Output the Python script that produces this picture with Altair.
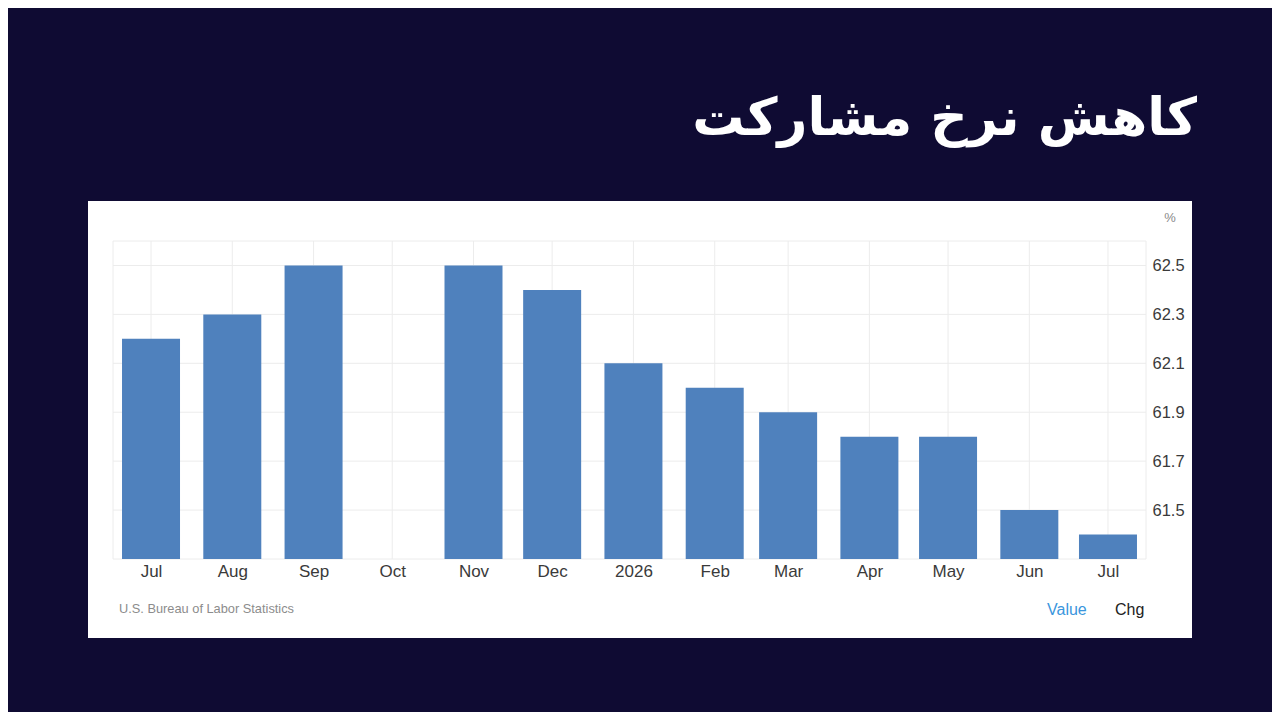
import altair as alt
import pandas as pd

# ---- data ----
DATES = ["2025-07-01", "2025-08-01", "2025-09-01", "2025-10-01", "2025-11-01",
         "2025-12-01", "2026-01-01", "2026-02-01", "2026-03-01", "2026-04-01",
         "2026-05-01", "2026-06-01", "2026-07-01"]
VALUES = [62.2, 62.3, 62.5, None, 62.5, 62.4, 62.1, 62.0, 61.9, 61.8, 61.8, 61.5, 61.4]
Y_TICKS = [61.3, 61.5, 61.7, 61.9, 62.1, 62.3, 62.5, 62.6]
X_DOMAIN = ["2025-06-16 12:00", "2026-07-15 12:00"]
Y_DOMAIN = [61.3, 62.6]

TITLE = "کاهش نرخ مشارکت"
UNIT = "%"
SOURCE = "U.S. Bureau of Labor Statistics"
TAB_VALUE = "Value"
TAB_CHG = "Chg"

df = pd.DataFrame({"date": DATES, "value": VALUES}).dropna()


def ms(s):
    return int(pd.Timestamp(s, tz="UTC").value // 10**6)


x_dom = [ms(s) for s in X_DOMAIN]
x_ticks = [x_dom[0]] + [ms(d) for d in DATES] + [x_dom[1]]

FONT = "Liberation Sans"
PANEL_W, PANEL_H = 1104, 437
GRID = "#ececec"

x_scale = alt.Scale(type="utc", domain=x_dom, range=[25, 1058], nice=False, padding=0)
y_scale = alt.Scale(domain=Y_DOMAIN, range=[358, 40], zero=False, nice=False, padding=0)

x_enc = alt.X(
    "date:T",
    scale=x_scale,
    axis=alt.Axis(
        title=None, values=[ms(d) for d in DATES], orient="bottom", offset=358 - PANEL_H,
        domain=False, ticks=False, tickSize=0, labelPadding=17,
        labelBaseline="alphabetic",
        labelExpr="utcFormat(datum.value,'%m') == '01' ? utcFormat(datum.value,'%Y') : utcFormat(datum.value,'%b')",
        labelFont=FONT, labelFontSize=17, labelColor="#3a3a3a",
        labelOverlap=False, labelFlush=False, labelBound=False, grid=False,
    ),
)
y_enc = alt.Y(
    "value:Q",
    scale=y_scale,
    axis=alt.Axis(
        title=None, values=Y_TICKS[1:-1], orient="right", offset=1058 - PANEL_W,
        domain=False, ticks=False, tickSize=0, labelPadding=6, format=".1f",
        labelFont=FONT, labelFontSize=16.5, labelColor="#3a3a3a",
        labelOverlap=False, labelFlush=False, labelBound=False, grid=False,
    ),
)

# grid lines drawn through the same scales
vgrid = alt.Chart(pd.DataFrame({"t": x_ticks})).mark_rule(color=GRID, strokeWidth=1).encode(
    x=alt.X("t:T", scale=x_scale, axis=None),
    y=alt.YDatum(Y_DOMAIN[0], type="quantitative", scale=y_scale, axis=None),
    y2=alt.datum(Y_DOMAIN[1]),
)
hgrid = alt.Chart(pd.DataFrame({"v": Y_TICKS})).mark_rule(color=GRID, strokeWidth=1).encode(
    y=alt.Y("v:Q", scale=y_scale, axis=None),
    x=alt.XDatum(x_dom[0], type="temporal", scale=x_scale, axis=None),
    x2=alt.datum(x_dom[1]),
)

bars = alt.Chart(df).mark_bar(color="#4f81bd", size=58).encode(
    x=x_enc, y=y_enc, y2=alt.datum(Y_DOMAIN[0])
)

one = pd.DataFrame({"k": [0]})


def label(txt, x, y, size, color, align="left", font=FONT, weight="normal", baseline="middle"):
    return alt.Chart(one).mark_text(
        align=align, baseline=baseline, font=font, fontSize=size,
        fontWeight=weight, color=color, clip=False
    ).encode(x=alt.value(x), y=alt.value(y), text=alt.value(txt))


title = label(TITLE, 1109, -66, 52, "#ffffff", align="right",
              font="DejaVu Sans", weight="bold", baseline="alphabetic")
unit = label(UNIT, 1082, 17, 13, "#8a8a8a", align="center")
source = label(SOURCE, 31, 408, 12.8, "#8c8c8c")
tab_v = label(TAB_VALUE, 959, 409, 16, "#3a96dd")
tab_c = label(TAB_CHG, 1027, 409, 16, "#222222")

chart = alt.layer(vgrid, hgrid, bars, title, unit, source, tab_v, tab_c).resolve_axis(
    x="independent", y="independent"
).properties(
    width=PANEL_W, height=PANEL_H,
    autosize=alt.AutoSizeParams(type="none"),
    padding={"left": 80, "top": 193, "right": 80, "bottom": 74},
    background="#0f0b33",
).configure_view(fill="#ffffff", stroke=None)

chart.save("out.html", embed_options={"renderer": "svg", "actions": False})
